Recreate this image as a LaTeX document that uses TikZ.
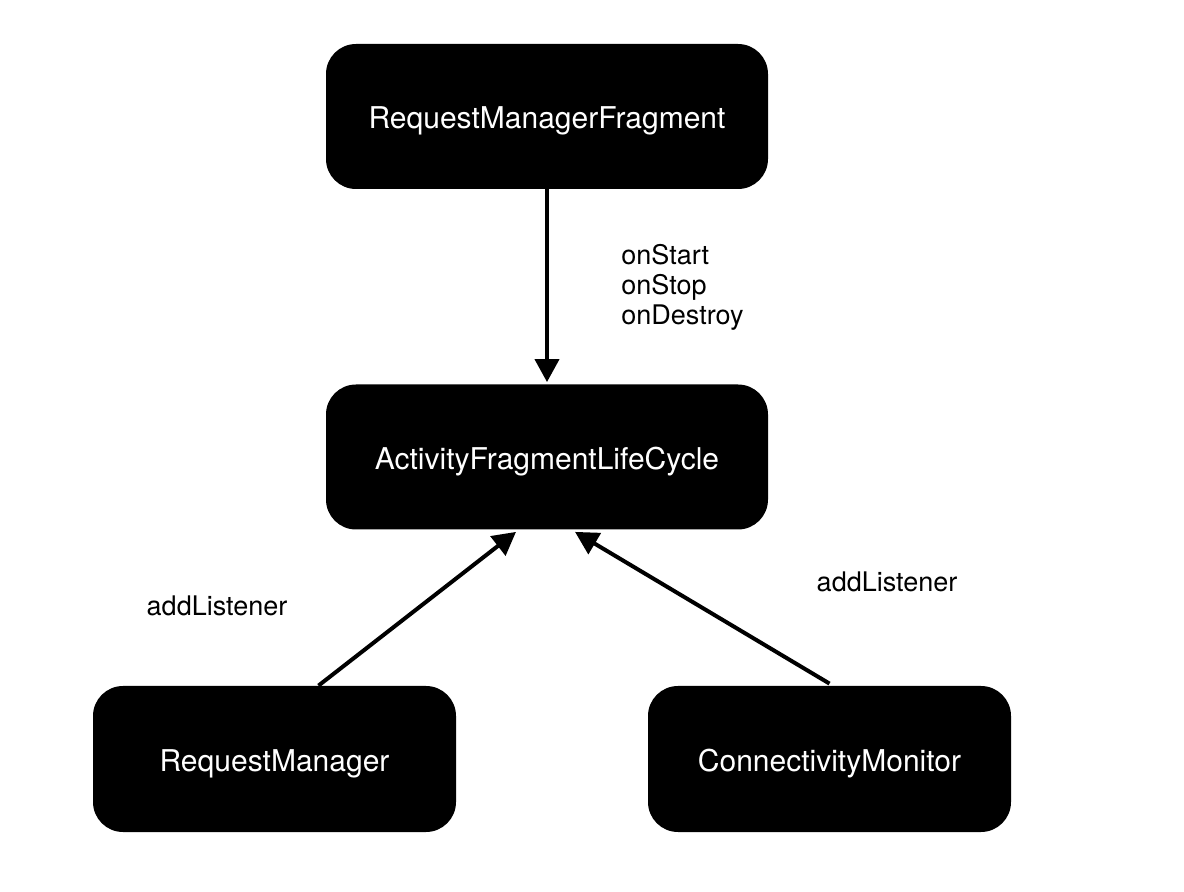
\documentclass[tikz,border=0pt]{standalone}
\usepackage{fontspec}
\setmainfont{TeX Gyre Heros}
\usepackage{tikz}
\usetikzlibrary{arrows.meta}
\tikzset{
box/.style={rectangle,rounded corners=15pt,fill=black,text=white,font=\fontsize{15}{18}\selectfont,text height=12.3pt,text depth=0pt},
bigbox/.style={box,minimum width=221pt,minimum height=72.5pt},
smallbox/.style={box,minimum width=181.5pt,minimum height=73pt},
flow/.style={line width=2pt,-{Triangle[length=11.5pt,width=12pt]}},
lbl/.style={font=\fontsize{13.5}{15}\selectfont,align=left}
}

\begin{document}
\begin{tikzpicture}[x=0.5pt,y=-0.5pt]
\useasboundingbox (0,0) rectangle (1184,892);
\node (rmf) at (547,116.5)[bigbox]{RequestManagerFragment};
\node (afl) at (547,457)[bigbox]{ActivityFragmentLifeCycle};
\node (rm) at (274.5,759)[smallbox]{RequestManager};
\node (cm) at (829.5,759)[smallbox]{ConnectivityMonitor};
\draw[flow] (rmf.south) -- ([yshift=1pt]afl.north);
\draw[flow] ([xshift=22pt]rm.north) -- ([xshift=-15.5pt,yshift=-1pt]afl.south);
\draw[flow] ([yshift=1pt]cm.north) -- ([xshift=14pt,yshift=-1pt]afl.south);
\node (life) at (621,287.5)[lbl,anchor=west,inner sep=0pt]{onStart\\onStop\\onDestroy};
\node (addl) at (217,606)[lbl]{addListener};
\node (addr) at (887,582)[lbl]{addListener};
\end{tikzpicture}
\end{document}
